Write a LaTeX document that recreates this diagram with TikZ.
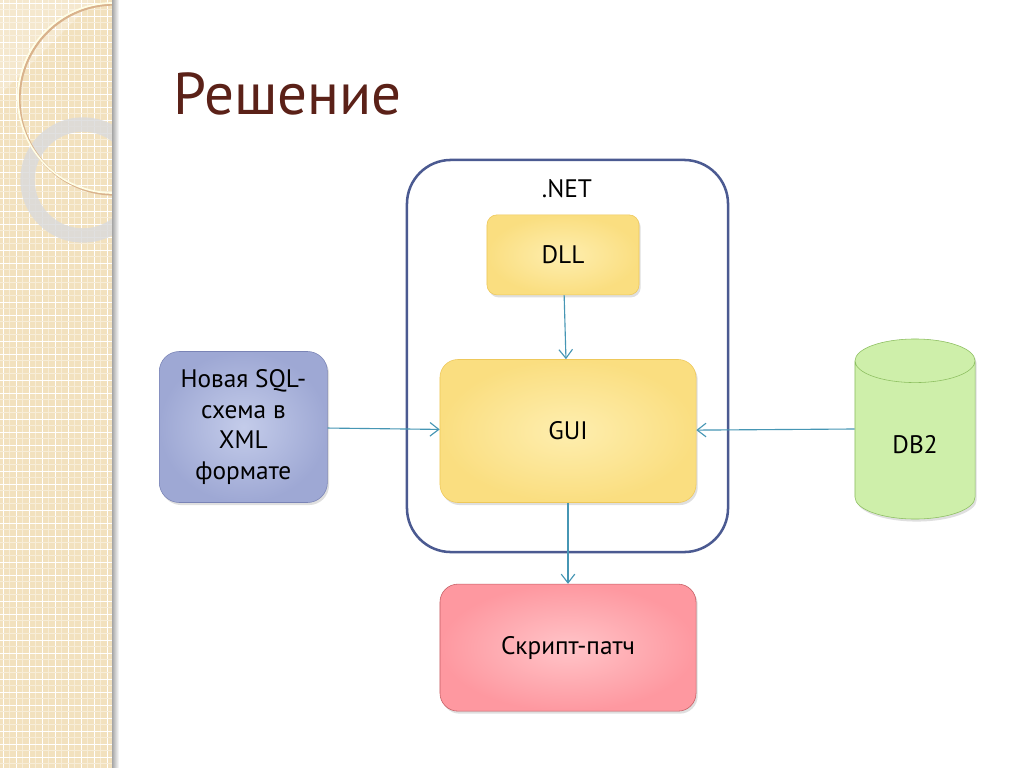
\documentclass[tikz,border=0pt]{standalone}
\usepackage{fontspec}
\setmainfont{PT Sans}
\usetikzlibrary{positioning, shapes.geometric, arrows.meta, shadows}

\definecolor{titlebrown}{RGB}{91,33,24}
\definecolor{stripbeige}{RGB}{242,225,190}
\definecolor{netblue}{RGB}{75,90,145}
\definecolor{arrowteal}{RGB}{70,150,180}
\definecolor{yellowin}{RGB}{254,238,175}
\definecolor{yellowout}{RGB}{250,222,128}
\definecolor{yellowline}{RGB}{238,200,90}
\definecolor{bluein}{RGB}{196,204,234}
\definecolor{blueout}{RGB}{158,168,212}
\definecolor{blueline}{RGB}{122,132,182}
\definecolor{redin}{RGB}{255,196,200}
\definecolor{redout}{RGB}{254,152,160}
\definecolor{redline}{RGB}{196,92,98}
\definecolor{greenbody}{RGB}{206,239,170}
\definecolor{greenline}{RGB}{140,190,95}

\tikzset{
  box/.style={rectangle, draw, align=center, font=\fontsize{18}{22}\selectfont,
    drop shadow={shadow xshift=1.2pt, shadow yshift=-1.8pt, opacity=0.25}},
  yellowbox/.style={box, shading=radial, inner color=yellowin, outer color=yellowout, draw=yellowline},
  bluebox/.style={box, shading=radial, inner color=bluein, outer color=blueout, draw=blueline},
  redbox/.style={box, shading=radial, inner color=redin, outer color=redout, draw=redline},
  conn/.style={draw=arrowteal, thick, -{Straight Barb[length=2.2mm, width=3.4mm]}}
}

\begin{document}
\begin{tikzpicture}[x=0.025cm, y=-0.025cm]
  \useasboundingbox (0,0) rectangle (1024,768);
  \fill[white] (0,0) rectangle (1024,768);

  % Polosa sleva
  \fill[stripbeige] (0,0) rectangle (112,768);
  \foreach \i in {0,...,8} {
    \draw[white, line width=0.6pt] (\i*13+3,0) -- (\i*13+3,768);
    \draw[white!40!stripbeige, line width=0.2pt] (\i*13+9.5,0) -- (\i*13+9.5,768);
  }
  \foreach \i in {0,...,59} {
    \draw[white, line width=0.6pt] (0,\i*13+3) -- (112,\i*13+3);
    \draw[white!40!stripbeige, line width=0.2pt] (0,\i*13+9.5) -- (112,\i*13+9.5);
  }
  \begin{scope}
    \clip (0,0) rectangle (112,768);
    \fill[white, opacity=0.25] (0,0) -- (95,0) -- (0,95) -- cycle;
    \draw[gray!28, opacity=0.85, line width=0.36cm] (83,180) circle (55.5);
    \draw[brown!60, line width=1.6pt] (114.5,99.5) circle (95);
    \draw[white!90!yellow, line width=1.2pt] (113,98) circle (95);
  \end{scope}
  \shade[left color=black!35, right color=white] (112,0) rectangle (119,768);

  % Zagolovok
  \node[anchor=base west, inner sep=0pt, text=titlebrown, font=\fontsize{42}{50}\selectfont] (title) at (173,115) {Решение};

  % .NET
  \node[rectangle, draw=netblue, line width=1.8pt, rounded corners=1.1cm, minimum width=8.025cm, minimum height=9.8cm] (net) at (567.5,356) {};
  \node[font=\fontsize{18}{22}\selectfont] (netlabel) at (567,189) {.NET};

  % Bloki
  \node[yellowbox, rounded corners=0.45cm, minimum width=6.4cm, minimum height=3.575cm] (gui) at (568,431) {GUI};
  \node[yellowbox, rounded corners=0.25cm, minimum width=3.8cm, minimum height=2cm, above=1.6cm of gui, xshift=-0.125cm] (dll) {DLL};
  \node[bluebox, rounded corners=0.5cm, minimum width=4.2cm, minimum height=3.775cm, left=2.8cm of gui, yshift=0.1cm] (sql) {Новая SQL-\\схема в\\XML\\формате};
  \node[redbox, rounded corners=0.45cm, minimum width=6.4cm, minimum height=3.175cm, below=2.025cm of gui] (patch) {Скрипт-патч};
  \node[cylinder, shape border rotate=90, aspect=0.8, draw=greenline, fill=greenbody,
    minimum height=4.5cm, minimum width=3cm, font=\fontsize{18}{22}\selectfont, anchor=shape center,
    drop shadow={shadow xshift=1.2pt, shadow yshift=-1.8pt, opacity=0.25}] (db) at (915,429) {DB2};

  % Strelki
  \draw[conn] (dll) -- (gui);
  \draw[conn] (sql) -- (gui);
  \draw[conn] (db.shape center -| db.west) -- (gui);
  \draw[conn] (gui) -- (patch);
\end{tikzpicture}
\end{document}
